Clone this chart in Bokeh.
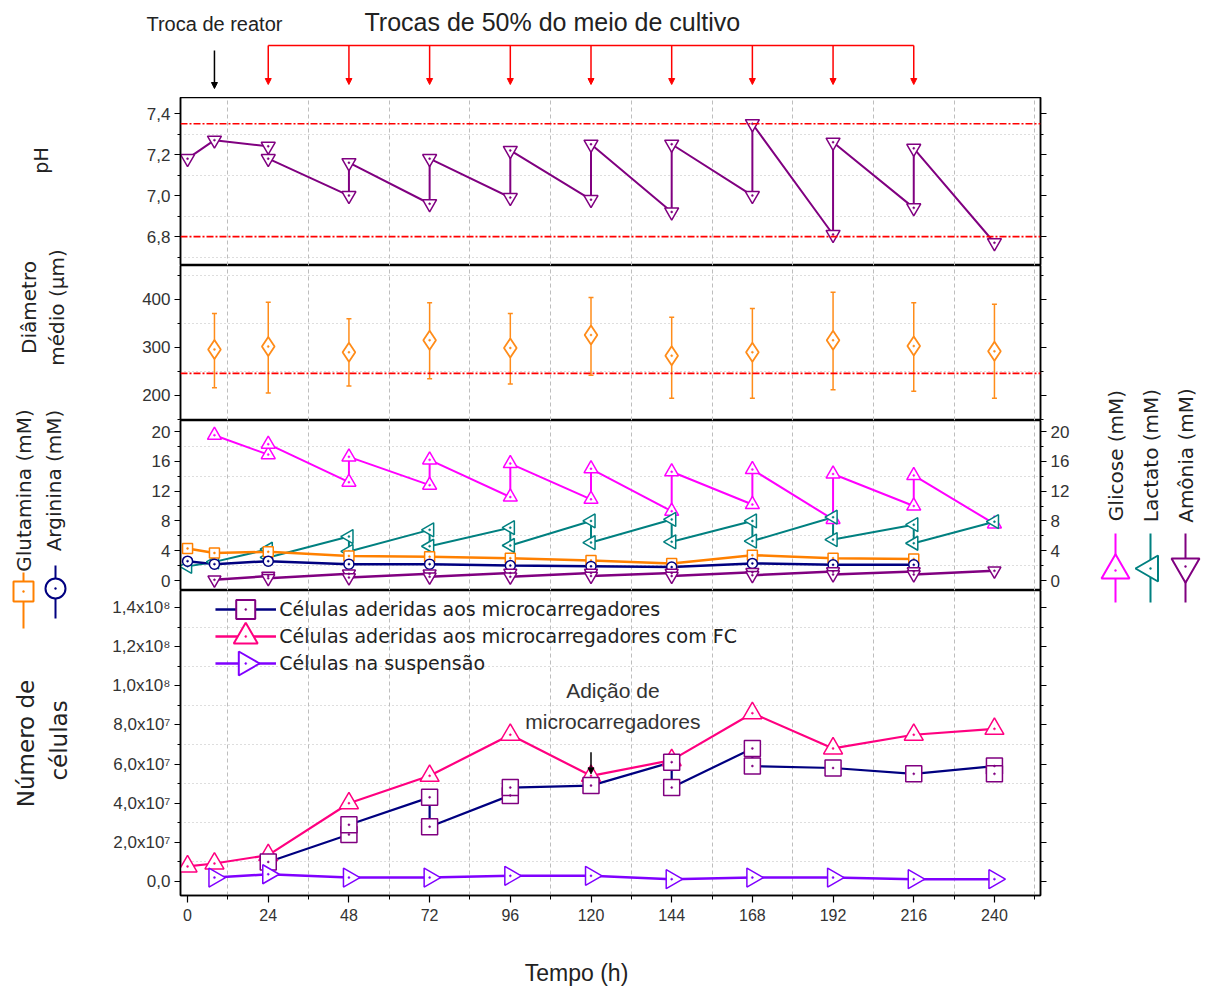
import numpy as np
from bokeh.plotting import figure
from bokeh.layouts import row, column
from bokeh.models import (Range1d, LinearAxis, FixedTicker, SingleIntervalTicker,
                          CustomJSTickFormatter, Span, Whisker, TeeHead, Arrow,
                          NormalHead, ColumnDataSource)
from bokeh.core.properties import value
from bokeh.embed import file_html
from bokeh.resources import INLINE

# ---------------- data ----------------
exchange_times = [24, 48, 72, 96, 120, 144, 168, 192, 216]
reactor_change_time = [8]
microcarrier_addition_time = [120]

ph_time = [0, 8, 24, 24, 48, 48, 72, 72, 96, 96, 120, 120, 144, 144, 168, 168, 192, 192, 216, 216, 240]
ph_value = [7.18, 7.27, 7.24, 7.18, 7.00, 7.16, 6.96, 7.18, 6.99, 7.22, 6.98, 7.25, 6.92, 7.25, 7.00, 7.35,
            6.81, 7.26, 6.94, 7.23, 6.77]
ph_limits = [7.35, 6.80]

diam_time = [8, 24, 48, 72, 96, 120, 144, 168, 192, 216, 240]
diam_mean = [296, 302, 290, 315, 299, 326, 283, 290, 315, 303, 292]
diam_upper = [371, 394, 360, 393, 371, 404, 363, 381, 415, 393, 390]
diam_lower = [216, 205, 220, 235, 224, 242, 194, 194, 212, 209, 194]
diam_limit = [246]

glc_time = [8, 24, 24, 48, 48, 72, 72, 96, 96, 120, 120, 144, 144, 168, 168, 192, 192, 216, 216, 240]
glc_value = [19.5, 16.9, 18.3, 13.2, 16.6, 12.8, 16.2, 11.2, 15.7, 10.9, 15.0, 9.3, 14.6, 10.2, 14.9,
             8.2, 14.3, 10.0, 14.1, 7.6]

lac_time = [0, 8, 24, 24, 48, 48, 72, 72, 96, 96, 120, 120, 144, 144, 168, 168, 192, 192, 216, 216, 240]
lac_value = [1.9, 2.5, 4.2, 3.1, 5.9, 3.9, 6.8, 4.6, 7.1, 4.7, 8.0, 5.1, 8.2, 5.2, 8.0, 5.3, 8.5, 5.5,
             7.5, 5.0, 7.9]

gln_time = [0, 8, 24, 48, 72, 96, 120, 144, 168, 192, 216]
gln_value = [4.3, 3.7, 3.85, 3.3, 3.2, 3.0, 2.7, 2.3, 3.4, 3.0, 2.9]

arg_time = [0, 8, 24, 48, 72, 96, 120, 144, 168, 192, 216]
arg_value = [2.6, 2.2, 2.6, 2.2, 2.2, 2.0, 1.9, 1.8, 2.3, 2.1, 2.1]

amm_time = [8, 24, 24, 48, 48, 72, 72, 96, 96, 120, 120, 144, 144, 168, 168, 192, 192, 216, 216, 240]
amm_value = [0.1, 0.6, 0.3, 0.9, 0.4, 0.9, 0.5, 1.0, 0.5, 1.0, 0.6, 1.0, 0.6, 1.1, 0.7, 1.2, 0.8, 1.2,
             0.8, 1.3]

cell_fc_time = [0, 8, 24, 48, 72, 96, 120, 144, 168, 192, 216, 240]
cell_fc_value = [7.7e6, 9.2e6, 1.35e7, 4.0e7, 5.4e7, 7.5e7, 5.4e7, 6.2e7, 8.6e7, 6.8e7, 7.5e7, 7.8e7]

cell_adh_time = [24, 48, 48, 72, 72, 96, 96, 120, 144, 144, 168, 168, 192, 216, 240, 240]
cell_adh_value = [1.0e7, 2.4e7, 2.9e7, 4.3e7, 2.8e7, 4.4e7, 4.8e7, 4.9e7, 6.1e7, 4.8e7, 6.8e7, 5.9e7,
                  5.8e7, 5.5e7, 5.9e7, 5.5e7]

cell_susp_time = [8, 24, 48, 72, 96, 120, 144, 168, 192, 216, 240]
cell_susp_value = [2.0e6, 3.7e6, 2.0e6, 2.0e6, 2.9e6, 2.9e6, 1.2e6, 2.0e6, 2.0e6, 1.2e6, 1.2e6]

cell_tick_values = [0, 2e7, 4e7, 6e7, 8e7, 1e8, 1.2e8, 1.4e8]
cell_tick_labels = ["0,0", "2,0x10⁷", "4,0x10⁷", "6,0x10⁷", "8,0x10⁷", "1,0x10⁸", "1,2x10⁸", "1,4x10⁸"]

legend_labels = ["Células aderidas aos microcarregadores",
                 "Células aderidas aos microcarregadores com FC",
                 "Células na suspensão"]

# ---------------- styling ----------------
FONT_TICK = "Liberation Sans"
FONT_LABEL = "DejaVu Sans"
TXT = "#222222"
GRID = "#BDBDBD"

C_PH = "#800080"
C_DIAM = "#FF8C1A"
C_GLC = "#FF00FF"
C_LAC = "#008080"
C_GLN = "#FF8000"
C_ARG = "#000080"
C_AMM = "#800080"
C_FC = "#FF0080"
C_SUSP = "#8000FF"

PAGE_W, PAGE_H = 1216, 990
LEFT_W, RIGHT_W = 80, 126
MID_W = PAGE_W - LEFT_W - RIGHT_W
B_LEFT, B_RIGHT = 100, 50
FRAME_L = LEFT_W + B_LEFT            # page px of the frames' left edge
FRAME_R = PAGE_W - RIGHT_W - B_RIGHT  # page px of the frames' right edge

TOP_H = 97
PANEL_H = [168, 155, 170, 342]        # pH, diameter, metabolites, cells (incl. tick labels)
CELL_BOTTOM = 37
BODY_H = sum(PANEL_H)
BODY_BOTTOM = TOP_H + BODY_H
BOT_H = PAGE_H - BODY_BOTTOM

X0, X1 = -2.1, 253.7
x_range = Range1d(X0, X1)
PX_PER_H = (FRAME_R - FRAME_L) / (X1 - X0)
wide_range = (X0 - FRAME_L / PX_PER_H, X1 + (PAGE_W - FRAME_R) / PX_PER_H)
xgrid_ticks = list(np.arange(12, 253, 24))


def style_axis(ax, labels=True, size="17px"):
    ax.major_label_text_font = FONT_TICK
    ax.major_label_text_font_size = size
    ax.major_label_text_color = "#333333"
    ax.axis_line_color = "black"
    ax.axis_line_width = 1.5
    ax.major_tick_out = 6
    ax.major_tick_in = 0
    ax.minor_tick_out = 3
    ax.minor_tick_in = 0
    ax.major_tick_line_color = "black"
    ax.minor_tick_line_color = "black"
    ax.major_tick_line_width = 1.2
    ax.major_label_standoff = 4
    if not labels:
        ax.formatter = CustomJSTickFormatter(code="return '';")


def panel(h, y0, y1, ticker, ygrid_ticks, formatter=None, right_labels=False,
          bottom=0, xaxis=False):
    p = figure(width=MID_W, height=h, x_range=x_range, y_range=Range1d(y0, y1),
               output_backend="svg", toolbar_location=None,
               x_axis_location="below" if xaxis else None,
               min_border_left=B_LEFT, min_border_right=B_RIGHT,
               min_border_top=0, min_border_bottom=bottom)
    p.outline_line_color = "black"
    p.outline_line_width = 1.5
    p.xgrid.ticker = FixedTicker(ticks=xgrid_ticks)
    p.xgrid.grid_line_color = GRID
    p.xgrid.grid_line_dash = "4 3"
    p.ygrid.ticker = FixedTicker(ticks=ygrid_ticks)
    p.ygrid.grid_line_color = GRID
    p.ygrid.grid_line_dash = "1 3"
    p.ygrid.grid_line_width = 1.2
    p.yaxis.ticker = ticker
    if formatter is not None:
        p.yaxis.formatter = formatter
    style_axis(p.yaxis[0])
    rax = LinearAxis(ticker=ticker)
    if formatter is not None and right_labels:
        rax.formatter = formatter
    style_axis(rax, labels=right_labels)
    p.add_layout(rax, "right")
    return p


def hollow(p, x, y, marker, size, color, angle=0.0, lw=1.5):
    r = p.scatter(x, y, marker=marker, angle=angle, size=size, line_color=color,
                  fill_color="white", line_width=lw)
    p.scatter(x, y, marker="circle", size=2, line_color=color, fill_color=color, line_width=0.5)
    return r


def blank_strip(w, h, xr):
    s = figure(width=w, height=h, x_range=Range1d(*xr), y_range=Range1d(0, h),
               output_backend="svg", toolbar_location=None,
               x_axis_location=None, y_axis_location=None,
               min_border_left=0, min_border_right=0, min_border_top=0, min_border_bottom=0)
    s.outline_line_color = None
    s.grid.visible = False
    return s


comma1 = CustomJSTickFormatter(code="return tick.toFixed(1).replace('.', ',');")

# ---------------- top annotation strip (full page width, same hour scale) ----------------
top = blank_strip(PAGE_W, TOP_H, wide_range)
top.text(x=[108.5], y=[TOP_H - 21], text=["Trocas de 50% do meio de cultivo"],
         text_font=value(FONT_TICK), text_font_size="25px", text_align="center",
         text_baseline="middle", text_color=TXT)
top.text(x=[reactor_change_time[0]], y=[TOP_H - 23], text=["Troca de reator"],
         text_font=value(FONT_TICK), text_font_size="20px", text_align="center",
         text_baseline="middle", text_color=TXT)
top.segment(x0=[min(exchange_times)], x1=[max(exchange_times)], y0=[TOP_H - 45], y1=[TOP_H - 45],
            line_color="red", line_width=1.5)
ex_src = ColumnDataSource(dict(x=exchange_times, y0=[TOP_H - 45] * len(exchange_times),
                               y1=[TOP_H - 84] * len(exchange_times)))
top.add_layout(Arrow(end=NormalHead(size=6, fill_color="red", line_color="red"),
                     x_start="x", y_start="y0", x_end="x", y_end="y1", source=ex_src,
                     line_color="red", line_width=1.5))
rc_src = ColumnDataSource(dict(x=reactor_change_time, y0=[TOP_H - 50], y1=[TOP_H - 88]))
top.add_layout(Arrow(end=NormalHead(size=6, fill_color="black", line_color="black"),
                     x_start="x", y_start="y0", x_end="x", y_end="y1", source=rc_src,
                     line_color="black", line_width=1.5))

# ---------------- pH ----------------
p_ph = panel(PANEL_H[0], 6.659, 7.478, SingleIntervalTicker(interval=0.2, num_minor_ticks=2),
             [6.7, 6.9, 7.1, 7.3], formatter=comma1)
for lv in ph_limits:
    p_ph.add_layout(Span(location=lv, dimension="width", line_color="red",
                         line_dash="7 2 2 2", line_width=1.6))
p_ph.line(ph_time, ph_value, line_color=C_PH, line_width=2)
hollow(p_ph, ph_time, ph_value, "triangle", 14, C_PH, angle=np.pi)

# ---------------- diameter ----------------
p_d = panel(PANEL_H[1], 147.9, 470.8, SingleIntervalTicker(interval=100, num_minor_ticks=2),
            [250, 350, 450])
for lv in diam_limit:
    p_d.add_layout(Span(location=lv, dimension="width", line_color="red",
                        line_dash="7 2 2 2", line_width=1.6))
d_src = ColumnDataSource(dict(x=diam_time, y=diam_mean, up=diam_upper, lo=diam_lower))
p_d.add_layout(Whisker(source=d_src, base="x", upper="up", lower="lo", line_color=C_DIAM,
                       line_width=1.5,
                       upper_head=TeeHead(size=5, line_color=C_DIAM, line_width=1.5),
                       lower_head=TeeHead(size=5, line_color=C_DIAM, line_width=1.5)))
hollow(p_d, diam_time, diam_mean, "diamond", 19, C_DIAM, lw=1.8)

# ---------------- metabolites ----------------
p_m = panel(PANEL_H[2], -1.34, 21.48, SingleIntervalTicker(interval=4, num_minor_ticks=2),
            [2, 6, 10, 14, 18], right_labels=True)
p_m.line(glc_time, glc_value, line_color=C_GLC, line_width=2)
p_m.line(lac_time, lac_value, line_color=C_LAC, line_width=2)
p_m.line(gln_time, gln_value, line_color=C_GLN, line_width=2.5)
p_m.line(arg_time, arg_value, line_color=C_ARG, line_width=2.5)
p_m.line(amm_time, amm_value, line_color=C_AMM, line_width=2.5)
hollow(p_m, glc_time, glc_value, "triangle", 14, C_GLC)
hollow(p_m, lac_time, lac_value, "triangle", 14, C_LAC, angle=np.pi / 2)
hollow(p_m, gln_time, gln_value, "square", 10, C_GLN)
hollow(p_m, arg_time, arg_value, "circle", 10, C_ARG)
hollow(p_m, amm_time, amm_value, "triangle", 13, C_AMM, angle=np.pi)

# ---------------- cells ----------------
cell_fmt = CustomJSTickFormatter(args=dict(vals=cell_tick_values, labs=cell_tick_labels), code="""
    for (let i = 0; i < vals.length; i++) { if (Math.abs(vals[i] - tick) < 1) return labs[i]; }
    return '';
""")
p_c = panel(PANEL_H[3], -7.15e6, 1.487e8,
            FixedTicker(ticks=cell_tick_values, minor_ticks=list(np.arange(1e7, 1.5e8, 2e7))),
            list(np.arange(1e7, 1.4e8, 2e7)), formatter=cell_fmt, bottom=CELL_BOTTOM, xaxis=True)
xa = p_c.xaxis[0]
xa.ticker = SingleIntervalTicker(interval=24, num_minor_ticks=2)
style_axis(xa, size="16px")
xa.major_tick_out = 7
xa.minor_tick_out = 4
xa.major_label_standoff = 6

p_c.line(cell_fc_time, cell_fc_value, line_color=C_FC, line_width=2.2)
p_c.line(cell_adh_time, cell_adh_value, line_color=C_ARG, line_width=2.2)
p_c.line(cell_susp_time, cell_susp_value, line_color=C_SUSP, line_width=2.5)
hollow(p_c, cell_fc_time, cell_fc_value, "triangle", 19, C_FC)
hollow(p_c, cell_adh_time, cell_adh_value, "square", 16, C_PH)
hollow(p_c, cell_susp_time, cell_susp_value, "triangle", 19, C_SUSP, angle=-np.pi / 2)

p_c.text(x=[126.5, 126.5], y=[9.76e7, 8.18e7], text=["Adição de", "microcarregadores"],
         text_font=value(FONT_TICK), text_font_size="21px", text_align="center",
         text_baseline="middle", text_color="#333333")
ma_src = ColumnDataSource(dict(x=microcarrier_addition_time, y0=[6.6e7], y1=[5.5e7]))
p_c.add_layout(Arrow(end=NormalHead(size=6, fill_color="black", line_color="black"),
                     x_start="x", y_start="y0", x_end="x", y_end="y1", source=ma_src,
                     line_color="black", line_width=1.5))

# legend (drawn as sample line + marker + text, so the rotated markers keep their orientation)
leg_y = [1.39e8, 1.252e8, 1.114e8]
leg_line_col = [C_ARG, C_FC, C_SUSP]
leg_mk = [("square", 19, C_PH, 0.0), ("triangle", 24, C_FC, 0.0), ("triangle", 24, C_SUSP, -np.pi / 2)]
for yy, lc, (mk, sz, mc, ang) in zip(leg_y, leg_line_col, leg_mk):
    p_c.segment(x0=[8.3], x1=[26.3], y0=[yy], y1=[yy], line_color=lc, line_width=2.5)
    hollow(p_c, [17.3], [yy], mk, sz, mc, angle=ang, lw=2)
p_c.text(x=[27.3] * 3, y=leg_y, text=legend_labels, text_font=value(FONT_LABEL),
         text_font_size="19px", text_align="left", text_baseline="middle", text_color=TXT)

# ---------------- bottom strip with the x-axis title ----------------
bot = blank_strip(PAGE_W, BOT_H, wide_range)
bot.text(x=[115.7], y=[PAGE_H - 972], text=["Tempo (h)"], text_font=value(FONT_TICK),
         text_font_size="23px", text_align="center", text_baseline="middle", text_color=TXT)

# ---------------- left / right title strips ----------------
def vtext(s, x, ypx, txt, size="20px", font=FONT_LABEL):
    s.text(x=[x], y=[BODY_BOTTOM - ypx], text=[txt], angle=np.pi / 2, text_font=value(font),
           text_font_size=size, text_align="center", text_baseline="middle", text_color=TXT)


def vsym(s, x, ytop, ybot, ymark, color, marker, size, angle=0.0):
    s.segment(x0=[x], x1=[x], y0=[BODY_BOTTOM - ytop], y1=[BODY_BOTTOM - ybot], line_color=color,
              line_width=2)
    hollow(s, [x], [BODY_BOTTOM - ymark], marker, size, color, angle=angle, lw=2)


left = blank_strip(LEFT_W, BODY_H, (0, LEFT_W))
vtext(left, 40, 160, "pH", size="19px")
vtext(left, 28, 307, "Diâmetro")
vtext(left, 56, 307, "médio (µm)")
vtext(left, 23, 490, "Glutamina (mM)")
vtext(left, 53, 480, "Arginina (mM)")
vtext(left, 25, 743, "Número de", size="23px")
vtext(left, 58, 740, "células", size="23px")
vsym(left, 23, 572, 628, 591, C_GLN, "square", 20)
vsym(left, 55, 565, 618, 588, C_ARG, "circle", 20)

right = blank_strip(RIGHT_W, BODY_H, (PAGE_W - RIGHT_W, PAGE_W))
vtext(right, 1115, 455, "Glicose (mM)")
vtext(right, 1150, 455, "Lactato (mM)")
vtext(right, 1185, 455, "Amônia (mM)")
vsym(right, 1115, 533, 602, 570, C_GLC, "triangle", 28)
vsym(right, 1150, 533, 602, 568, C_LAC, "triangle", 26, angle=np.pi / 2)
vsym(right, 1185, 533, 602, 566, C_AMM, "triangle", 28, angle=np.pi)

body = row(left, column(p_ph, p_d, p_m, p_c, spacing=0), right, spacing=0)
layout = column(top, body, bot, spacing=0)

open("out.html", "w").write(file_html(layout, INLINE))
